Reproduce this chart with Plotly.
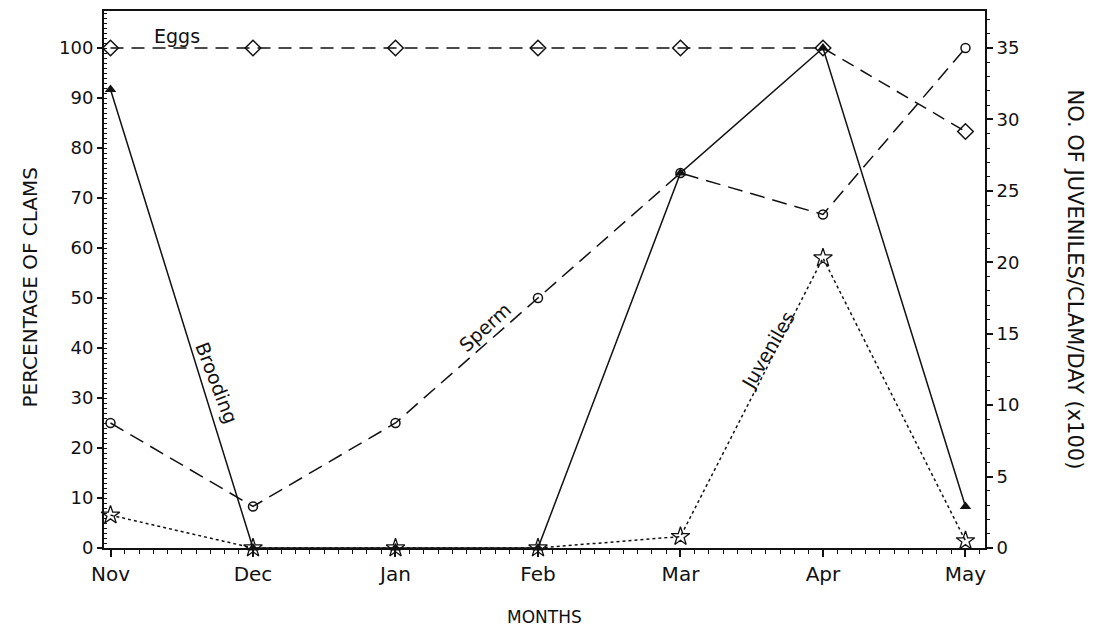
import plotly.graph_objects as go

months = ["Nov", "Dec", "Jan", "Feb", "Mar", "Apr", "May"]
month_pos = [0, 1, 2, 3, 4, 5, 6]

eggs = [100, 100, 100, 100, 100, 100, 83.3]
sperm = [25, 8.3, 25, 50, 75, 66.7, 100]
brooding = [91.7, 0, 0, 0, 75, 100, 8.3]
juveniles = [2.3, 0, 0, 0, 0.8, 20.3, 0.5]

left_ticks = [0, 10, 20, 30, 40, 50, 60, 70, 80, 90, 100]
right_ticks = [0, 5, 10, 15, 20, 25, 30, 35]

FONT = "DejaVu Sans"
BLACK = "#111111"

fig = go.Figure()

fig.add_trace(go.Scatter(
    x=month_pos, y=eggs, mode="lines+markers", name="Eggs",
    line=dict(color=BLACK, width=1.5, dash="13px,8px"),
    marker=dict(symbol="diamond-open", size=12, color=BLACK, line=dict(width=1.5)),
    cliponaxis=False,
))
fig.add_trace(go.Scatter(
    x=month_pos, y=sperm, mode="lines+markers", name="Sperm",
    line=dict(color=BLACK, width=1.5, dash="15px,8px"),
    marker=dict(symbol="circle-open", size=9, color=BLACK, line=dict(width=1.5)),
    cliponaxis=False,
))
fig.add_trace(go.Scatter(
    x=month_pos, y=brooding, mode="lines+markers", name="Brooding",
    line=dict(color=BLACK, width=1.5),
    marker=dict(symbol="triangle-up", size=10, color=BLACK),
    cliponaxis=False,
))
fig.add_trace(go.Scatter(
    x=month_pos, y=juveniles, mode="lines+markers", name="Juveniles",
    yaxis="y2",
    line=dict(color=BLACK, width=1.5, dash="dot"),
    marker=dict(symbol="star-open", size=14, color=BLACK, line=dict(width=1.3)),
    cliponaxis=False,
))

ann_font = dict(family=FONT, size=19, color=BLACK)
annotations = [
    dict(x=0.467, y=102.4, xref="x", yref="y", text="Eggs", showarrow=False, font=ann_font),
    dict(x=0.747, y=33, xref="x", yref="y", text="Brooding", showarrow=False,
         textangle=69, font=ann_font),
    dict(x=2.628, y=44.2, xref="x", yref="y", text="Sperm", showarrow=False,
         textangle=-42, font=ann_font),
    dict(x=4.614, y=39.6, xref="x", yref="y", text="Juveniles", showarrow=False,
         textangle=-60, font=ann_font),
    dict(x=1.0, y=0.5, xref="paper", yref="paper", xshift=90, xanchor="center",
         text="NO. OF JUVENILES/CLAM/DAY (x100)",
         showarrow=False, textangle=90, font=dict(family=FONT, size=21, color=BLACK)),
    dict(x=0.0, y=0.5, xref="paper", yref="paper", xshift=-75, xanchor="center",
         yshift=-8, text="PERCENTAGE OF CLAMS",
         showarrow=False, textangle=-90, font=dict(family=FONT, size=20, color=BLACK)),
    dict(x=0.5, y=0.0, xref="paper", yref="paper", yshift=-69, yanchor="middle",
         xshift=0, text="MONTHS",
         showarrow=False, font=dict(family=FONT, size=17, color=BLACK)),
]

fig.update_layout(
    width=1087, height=627,
    margin=dict(l=96, r=110, t=3, b=87, autoexpand=False),
    paper_bgcolor="white", plot_bgcolor="white",
    showlegend=False,
    font=dict(family=FONT, size=18, color=BLACK),
    annotations=annotations,
    xaxis=dict(
        range=[-0.0456, 6.137],
        tickvals=month_pos, ticktext=months,
        tickfont=dict(size=20),
        ticks="outside", ticklen=7, tickwidth=1.5, tickcolor=BLACK,
        minor=dict(dtick=0.1, tick0=0, ticks="outside", ticklen=4, tickwidth=1, tickcolor=BLACK),
        showline=True, linecolor=BLACK, linewidth=2, mirror=True,
        showgrid=False, zeroline=False,
    ),
    yaxis=dict(
        range=[0, 107.4],
        tickvals=left_ticks,
        ticks="outside", ticklen=5, tickwidth=1.5, tickcolor=BLACK,
        minor=dict(dtick=1, tick0=0, ticks="inside", ticklen=3, tickwidth=1, tickcolor=BLACK),
        showline=True, linecolor=BLACK, linewidth=2,
        showgrid=False, zeroline=False,
    ),
    yaxis2=dict(
        range=[0, 107.4 * 0.35],
        overlaying="y", side="right",
        tickvals=right_ticks,
        ticks="outside", ticklen=6, tickwidth=1.5, tickcolor=BLACK,
        minor=dict(dtick=1, tick0=0, ticks="outside", ticklen=3, tickwidth=1, tickcolor=BLACK),
        showline=True, linecolor=BLACK, linewidth=2,
        showgrid=False, zeroline=False,
    ),
)

fig.write_html("out.html")
